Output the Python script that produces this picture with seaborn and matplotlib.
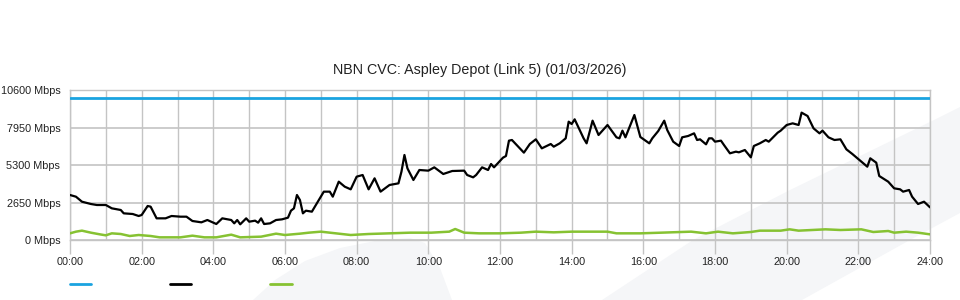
import matplotlib
matplotlib.use("Agg")
import matplotlib.pyplot as plt
from matplotlib.patches import Polygon
from matplotlib.lines import Line2D
from matplotlib.ticker import MultipleLocator, FixedLocator
import seaborn as sns
import pandas as pd

# ---------------- data ----------------
title = "NBN CVC: Aspley Depot (Link 5) (01/03/2026)"

capacity_minutes = [0, 1440]
capacity_mbps = [10000, 10000]

traffic_minutes = [
    0, 10, 20, 35, 45, 60, 70, 85, 90, 105, 115, 120, 130, 135, 145, 160, 170, 185,
    195, 205, 220, 230, 245, 255, 270, 275, 280, 285, 295, 300, 310, 315, 320, 325,
    335, 345, 355, 365, 370, 375, 380, 385, 390, 395, 405, 415, 425, 435, 440, 450,
    460, 470, 480, 490, 500, 510, 520, 535, 550, 555, 560, 565, 575, 585, 600, 610,
    625, 640, 660, 665, 675, 680, 690, 700, 705, 710, 725, 730, 735, 740, 760, 770,
    780, 790, 805, 810, 820, 830, 835, 840, 845, 860, 865, 875, 885, 900, 915, 920,
    925, 930, 945, 955, 970, 975, 985, 995, 1000, 1010, 1020, 1025, 1035, 1045, 1050,
    1055, 1065, 1070, 1075, 1080, 1090, 1095, 1105, 1115, 1120, 1130, 1140, 1145,
    1155, 1165, 1170, 1185, 1190, 1200, 1210, 1220, 1225, 1235, 1245, 1255, 1260,
    1270, 1280, 1290, 1300, 1310, 1325, 1335, 1340, 1350, 1355, 1370, 1380, 1390,
    1395, 1405, 1410, 1420, 1430, 1440,
]
traffic_mbps = [
    3180, 3060, 2707, 2544, 2473, 2473, 2238, 2120, 1884, 1837, 1696, 1767, 2403, 2356,
    1531, 1531, 1696, 1648, 1648, 1343, 1248, 1413, 1130, 1531, 1413, 1177, 1413, 1107,
    1531, 1295, 1366, 1224, 1531, 1130, 1177, 1413, 1460, 1578, 2073, 2238, 3180, 2827,
    1884, 2073, 2002, 2707, 3416, 3416, 3062, 4122, 3769, 3580, 4476, 4593, 3580, 4358,
    3416, 3887, 4004, 4829, 6007, 5064, 4240, 4947, 4900, 5135, 4664, 4876, 4900, 4593,
    4428, 4593, 5135, 4947, 5371, 5135, 5818, 5936, 7020, 7067, 6172, 6784, 7114, 6477,
    6784, 6595, 6831, 7185, 8362, 8196, 8528, 7185, 6831, 8432, 7420, 8127, 7256, 7185,
    7727, 7256, 8833, 7279, 6831, 7185, 7703, 8432, 7773, 6949, 6643, 7256, 7350, 7538,
    7067, 7114, 6760, 7185, 7185, 6949, 7020, 6713, 6125, 6243, 6196, 6360, 5842, 6643,
    6831, 7067, 6949, 7585, 7727, 8127, 8244, 8127, 9000, 8762, 7891, 7538, 7727, 7256,
    7067, 7114, 6407, 6077, 5536, 5182, 5771, 5465, 4523, 4122, 3651, 3580, 3416, 3533,
    3062, 2544, 2707, 2308,
]

upload_minutes = [
    0, 10, 20, 35, 50, 60, 70, 85, 100, 115, 135, 150, 185, 205, 225, 245, 270, 285,
    320, 345, 360, 385, 400, 420, 470, 500, 535, 570, 605, 635, 645, 660, 685, 720,
    755, 780, 810, 840, 865, 900, 915, 955, 990, 1040, 1065, 1085, 1110, 1140, 1155,
    1190, 1205, 1220, 1265, 1290, 1325, 1345, 1370, 1380, 1400, 1420, 1440,
]
upload_mbps = [
    471, 589, 660, 518, 400, 330, 471, 424, 283, 353, 283, 188, 188, 306, 188, 188, 377,
    188, 236, 447, 353, 447, 518, 589, 353, 424, 471, 518, 518, 589, 777, 518, 471, 471,
    518, 589, 542, 589, 589, 589, 471, 471, 518, 589, 471, 589, 471, 565, 660, 660, 754,
    660, 754, 707, 754, 565, 636, 518, 589, 518, 400,
]

y_ticks = [0, 2650, 5300, 7950, 10600]
x_tick_hours = list(range(0, 25, 2))
x_tick_labels = [f"{h:02d}:00" for h in x_tick_hours]

colors = {"capacity": "#1aa3e0", "traffic": "#000000", "upload": "#86c232"}
line_widths = {"capacity": 2.0, "traffic": 1.6, "upload": 1.8}

# ---------------- plot ----------------
sns.set_theme(style="white")
plt.rcParams["font.family"] = ["Liberation Sans", "DejaVu Sans"]

W, H = 960, 300
fig = plt.figure(figsize=(W / 100, H / 100), dpi=100, facecolor="white")

# background watermark shapes in a pixel-space background axes
bg = fig.add_axes([0, 0, 1, 1], zorder=0)
bg.set_xlim(0, W)
bg.set_ylim(H, 0)
bg.axis("off")
wm = "#f5f6f8"
bg.add_patch(Polygon([(602, 300), (693, 240), (790, 190), (934, 120), (960, 107),
                      (960, 213), (910, 240), (802, 300)],
                     closed=True, facecolor=wm, edgecolor="none"))
bg.add_patch(Polygon([(253, 300), (275, 280), (305, 261), (340, 248), (380, 240),
                      (410, 238), (425, 243), (440, 268), (452, 300)],
                     closed=True, facecolor=wm, edgecolor="none"))

ax = fig.add_axes([70 / W, 1 - 240 / H, 860 / W, 150 / H], zorder=1)
ax.set_facecolor("none")

df_cap = pd.DataFrame({"hour": [m / 60 for m in capacity_minutes], "mbps": capacity_mbps})
df_tr = pd.DataFrame({"hour": [m / 60 for m in traffic_minutes], "mbps": traffic_mbps})
df_up = pd.DataFrame({"hour": [m / 60 for m in upload_minutes], "mbps": upload_mbps})

sns.lineplot(data=df_cap, x="hour", y="mbps", color=colors["capacity"],
             linewidth=line_widths["capacity"], ax=ax, zorder=3)
sns.lineplot(data=df_tr, x="hour", y="mbps", color=colors["traffic"],
             linewidth=line_widths["traffic"], ax=ax, zorder=4)
sns.lineplot(data=df_up, x="hour", y="mbps", color=colors["upload"],
             linewidth=line_widths["upload"], ax=ax, zorder=3)

ax.set_xlim(0, 24)
ax.set_ylim(0, 10600)
ax.set_xlabel("")
ax.set_ylabel("")

ax.xaxis.set_major_locator(FixedLocator(x_tick_hours))
ax.set_xticklabels(x_tick_labels)
ax.xaxis.set_minor_locator(MultipleLocator(1))
ax.set_yticks(y_ticks)
ax.set_yticklabels([f"{v} Mbps" for v in y_ticks])

grid_c = "#c4c4c4"
ax.grid(True, which="both", axis="x", color=grid_c, linewidth=1.0, zorder=1)
ax.grid(True, which="major", axis="y", color=grid_c, linewidth=1.2, zorder=1)
ax.set_axisbelow(True)

ax.tick_params(axis="x", which="major", length=10, width=1, color=grid_c, pad=2,
               labelsize=7.8, labelcolor="#222222", direction="out", bottom=True)
ax.tick_params(axis="x", which="minor", length=0)
ax.tick_params(axis="y", length=0, pad=7, labelsize=7.8, labelcolor="#222222")

for s in ax.spines.values():
    s.set_color(grid_c)
    s.set_linewidth(1.0)

fig.text(480 / W, 1 - 70 / H, title, ha="center", va="center", fontsize=10.3,
         color="#222222")

# legend (no labels)
handles = [Line2D([], [], color=colors[k], linewidth=line_widths["capacity"])
           for k in ("capacity", "traffic", "upload")]
leg = fig.legend(handles, ["", "", ""], loc="center left",
                 bbox_to_anchor=(70 / W, 1 - 285 / H), ncol=3, frameon=False,
                 handlelength=1.95, handletextpad=0.0, columnspacing=7.3,
                 borderpad=0, borderaxespad=0, fontsize=7.8)
leg.set_zorder(5)

fig.savefig("out.png", dpi=100, facecolor="white")
